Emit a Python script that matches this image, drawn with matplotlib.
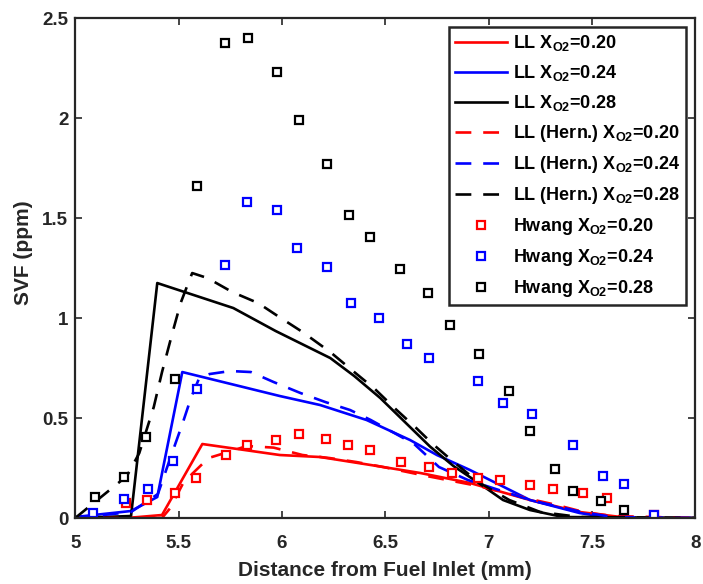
import matplotlib
matplotlib.use('Agg')
import matplotlib.pyplot as plt

plt.rcParams['font.family'] = ['Liberation Sans', 'DejaVu Sans']
plt.rcParams['font.weight'] = 'bold'
plt.rcParams['mathtext.fontset'] = 'custom'
plt.rcParams['mathtext.rm'] = 'Liberation Sans:bold'
plt.rcParams['mathtext.bf'] = 'Liberation Sans:bold'

# LL model, solid lines
x_ll_20 = [5.0, 5.25, 5.42, 5.615, 5.99, 6.185, 6.43, 6.67, 6.91, 7.2, 7.44, 7.68, 8.0]
y_ll_20 = [0.0, 0.0, 0.015, 0.37, 0.315, 0.305, 0.265, 0.225, 0.175, 0.09, 0.03, 0.0, 0.0]
x_ll_24 = [5.0, 5.27, 5.397, 5.518, 5.99, 6.185, 6.41, 6.62, 6.75, 6.91, 7.2, 7.44, 7.6, 8.0]
y_ll_24 = [0.005, 0.035, 0.105, 0.73, 0.61, 0.565, 0.49, 0.39, 0.315, 0.24, 0.09, 0.025, 0.0, 0.0]
x_ll_28 = [5.0, 5.27, 5.397, 5.5, 5.765, 5.97, 6.234, 6.35, 6.476, 6.6, 6.717, 6.83, 6.945, 7.07, 7.2, 7.36, 8.0]
y_ll_28 = [0.0, 0.01, 1.175, 1.14, 1.05, 0.935, 0.8, 0.71, 0.6, 0.475, 0.357, 0.26, 0.18, 0.09, 0.04, 0.005, 0.0]

# LL (Hern.) model, dashed lines
x_hn_20 = [5.0, 5.42, 5.46, 5.52, 5.57, 5.645, 5.74, 5.83, 5.96, 6.1, 6.23, 6.36, 6.49, 6.7, 6.95, 7.2, 7.33, 7.46, 7.6, 8.0]
y_hn_20 = [0.0, 0.0, 0.05, 0.17, 0.225, 0.3, 0.33, 0.36, 0.352, 0.315, 0.3, 0.28, 0.255, 0.21, 0.16, 0.095, 0.065, 0.03, 0.01, 0.0]
x_hn_24 = [5.0, 5.27, 5.4, 5.46, 5.52, 5.56, 5.6, 5.65, 5.75, 5.85, 5.96, 6.09, 6.21, 6.33, 6.43, 6.64, 6.76, 6.9, 7.05, 7.2, 7.45, 7.6, 8.0]
y_hn_24 = [0.0, 0.03, 0.12, 0.3, 0.475, 0.6, 0.7, 0.72, 0.735, 0.73, 0.68, 0.625, 0.58, 0.54, 0.49, 0.37, 0.255, 0.19, 0.14, 0.09, 0.03, 0.005, 0.0]
x_hn_28 = [5.0, 5.25, 5.31, 5.38, 5.42, 5.47, 5.51, 5.547, 5.566, 5.64, 5.76, 5.885, 5.98, 6.1, 6.234, 6.35, 6.45, 6.55, 6.65, 6.73, 6.82, 6.95, 7.1, 7.25, 7.44, 8.0]
y_hn_28 = [0.0, 0.21, 0.325, 0.555, 0.73, 0.925, 1.075, 1.175, 1.225, 1.2, 1.13, 1.075, 1.01, 0.93, 0.83, 0.73, 0.645, 0.545, 0.45, 0.37, 0.29, 0.18, 0.09, 0.03, 0.005, 0.0]

# Hwang measurements
x_hw_20 = [5.247, 5.348, 5.484, 5.585, 5.731, 5.832, 5.972, 6.084, 6.214, 6.321, 6.427, 6.577, 6.713, 6.824, 6.95, 7.056, 7.2, 7.31, 7.457, 7.574, 7.8]
y_hw_20 = [0.075, 0.09, 0.125, 0.2, 0.315, 0.365, 0.39, 0.42, 0.395, 0.365, 0.34, 0.28, 0.255, 0.225, 0.2, 0.19, 0.165, 0.145, 0.125, 0.1, 0.015]
x_hw_24 = [5.087, 5.237, 5.353, 5.474, 5.59, 5.726, 5.832, 5.977, 6.074, 6.219, 6.335, 6.471, 6.606, 6.713, 6.95, 7.07, 7.21, 7.41, 7.555, 7.655, 7.8]
y_hw_24 = [0.025, 0.095, 0.145, 0.285, 0.645, 1.265, 1.58, 1.54, 1.35, 1.255, 1.075, 1.0, 0.87, 0.8, 0.685, 0.575, 0.52, 0.365, 0.21, 0.17, 0.015]
x_hw_28 = [5.097, 5.237, 5.343, 5.484, 5.59, 5.726, 5.837, 5.977, 6.084, 6.219, 6.326, 6.427, 6.572, 6.708, 6.814, 6.955, 7.1, 7.2, 7.32, 7.41, 7.545, 7.655]
y_hw_28 = [0.105, 0.205, 0.405, 0.695, 1.66, 2.375, 2.4, 2.23, 1.99, 1.77, 1.515, 1.405, 1.245, 1.125, 0.965, 0.82, 0.635, 0.435, 0.245, 0.135, 0.085, 0.04]

fig = plt.figure(figsize=(7.03, 5.84), dpi=100)
ax = fig.add_axes([0.107, 0.113, 0.882, 0.856])

lw = 1.9
dash = (0, (6, 4.5))
ax.plot(x_ll_20, y_ll_20, color='#ff0000', lw=lw, label=r'LL X$_{\mathbf{O2}}$=0.20')
ax.plot(x_ll_24, y_ll_24, color='#0000ff', lw=lw, label=r'LL X$_{\mathbf{O2}}$=0.24')
ax.plot(x_ll_28, y_ll_28, color='black', lw=lw, label=r'LL X$_{\mathbf{O2}}$=0.28')
ax.plot(x_hn_20, y_hn_20, color='#ff0000', lw=lw, ls=dash, label=r'LL (Hern.) X$_{\mathbf{O2}}$=0.20')
ax.plot(x_hn_24, y_hn_24, color='#0000ff', lw=lw, ls=dash, label=r'LL (Hern.) X$_{\mathbf{O2}}$=0.24')
ax.plot(x_hn_28, y_hn_28, color='black', lw=lw, ls=dash, label=r'LL (Hern.) X$_{\mathbf{O2}}$=0.28')

mk = dict(ls='none', marker='s', ms=6, mew=1.6, mfc='white')
ax.plot(x_hw_20, y_hw_20, mec='#ff0000', label=r'Hwang X$_{\mathbf{O2}}$=0.20', **mk)
ax.plot(x_hw_24, y_hw_24, mec='#0000ff', label=r'Hwang X$_{\mathbf{O2}}$=0.24', **mk)
ax.plot(x_hw_28, y_hw_28, mec='black', label=r'Hwang X$_{\mathbf{O2}}$=0.28', **mk)

ax.set_xlim(5, 8)
ax.set_ylim(0, 2.5)
ax.set_xticks([5, 5.5, 6, 6.5, 7, 7.5, 8])
ax.set_xticklabels(['5', '5.5', '6', '6.5', '7', '7.5', '8'])
ax.set_yticks([0, 0.5, 1, 1.5, 2, 2.5])
ax.set_yticklabels(['0', '0.5', '1', '1.5', '2', '2.5'])
ax.tick_params(direction='in', top=True, right=True, length=5, width=1.2,
               labelsize=13.5, colors='#262626')
ax.tick_params(axis='x', pad=12)
ax.tick_params(axis='y', pad=5)
for s in ax.spines.values():
    s.set_linewidth(1.6)
    s.set_color('#262626')

ax.set_xlabel('Distance from Fuel Inlet (mm)', fontsize=15, fontweight='bold',
              color='#262626', labelpad=7)
ax.set_ylabel('SVF (ppm)', fontsize=15, fontweight='bold', color='#262626')
ax.yaxis.set_label_coords(-0.068, 0.53)

leg = ax.legend(loc='upper right', bbox_to_anchor=(0.985, 0.982), fontsize=13,
                fancybox=False, framealpha=1, edgecolor='#262626', handlelength=2.9,
                handletextpad=0.3, borderpad=0.35, labelspacing=0.55, borderaxespad=0)
leg.get_frame().set_linewidth(1.8)

fig.savefig('out.png', dpi=100)
